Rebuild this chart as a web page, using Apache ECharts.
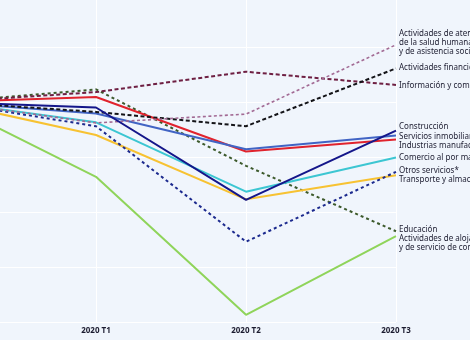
<!DOCTYPE html>
<html>
<head>
<meta charset="utf-8">
<script src="https://cdn.jsdelivr.net/npm/echarts@6/dist/echarts.min.js"></script>
<style>
  html, body { margin: 0; padding: 0; background: #f0f5fc; }
  #chart { width: 470px; height: 340px; }
</style>
</head>
<body>
<div id="chart"></div>
<script>
// Quarterly activity index by sector, 2019 T4 = 100
const quarters = ['2019 T4', '2020 T1', '2020 T2', '2020 T3'];

const salud         = [100, 96.2, 97.8, 110.4];
const financieras   = [100, 98.2, 95.6, 106.1];
const informacion   = [100, 101.8, 105.5, 103.1];
const construccion  = [100, 99.0, 82.2, 94.8];
const inmobiliarios = [100, 97.9, 91.4, 93.9];
const manufactura   = [100, 100.9, 91.0, 93.2];
const comercio      = [100, 96.3, 83.7, 89.9];
const otros         = [100, 95.6, 74.6, 87.3];
const transporte    = [100, 94.0, 82.3, 86.7];
const educacion     = [100, 102.3, 88.4, 76.5];
const alojamiento   = [100, 86.4, 61.3, 75.6];

const sectorNames = {
  salud: 'Actividades de atención\nde la salud humana\ny de asistencia social',
  financieras: 'Actividades financieras y de seguros',
  informacion: 'Información y comunicaciones',
  construccion: 'Construcción',
  inmobiliarios: 'Servicios inmobiliarios',
  manufactura: 'Industrias manufactureras',
  comercio: 'Comercio al por mayor y al por menor',
  otros: 'Otros servicios*',
  transporte: 'Transporte y almacenamiento',
  educacion: 'Educación',
  alojamiento: 'Actividades de alojamiento\ny de servicio de comidas'
};

const FONT = '"Noto Sans", "Open Sans", sans-serif';

function makeSeries(key, data, color, opts) {
  return {
    name: sectorNames[key],
    type: 'line',
    data: data,
    showSymbol: false,
    symbol: 'none',
    smooth: false,
    silent: true,
    z: opts.z || 2,
    lineStyle: {
      color: color,
      width: opts.width || 2,
      type: opts.dash || 'solid'
    },
    endLabel: {
      show: true,
      formatter: '{a}',
      distance: 3,
      offset: opts.offset || [0, 0],
      color: '#1c1c30',
      fontSize: 8,
      lineHeight: 9,
      fontFamily: FONT
    }
  };
}

const chart = echarts.init(document.getElementById('chart'), null, { renderer: 'canvas' });

chart.setOption({
  backgroundColor: '#f0f5fc',
  animation: false,
  // the first quarter sits just outside the left edge of the view
  grid: {
    left: -54, width: 450, top: -8, height: 330,
    containLabel: false,
    outerBoundsMode: 'none'
  },
  xAxis: {
    type: 'category',
    data: quarters,
    boundaryGap: false,
    axisLine: { show: false },
    axisTick: { show: false },
    axisLabel: {
      color: '#1c1c30',
      fontSize: 8,
      fontWeight: 'bold',
      fontFamily: FONT,
      margin: 5
    },
    splitLine: { show: true, lineStyle: { color: '#ffffff', width: 1 } }
  },
  yAxis: {
    type: 'value',
    min: 60,
    max: 120,
    interval: 10,
    axisLine: { show: false },
    axisTick: { show: false },
    axisLabel: { show: false },
    splitLine: { show: true, lineStyle: { color: '#ffffff', width: 1 } }
  },
  series: [
    makeSeries('alojamiento', alojamiento, '#8fd45a', { offset: [0, 7] }),
    makeSeries('educacion', educacion, '#3d5a2c', { dash: [3, 3], offset: [0, -2] }),
    makeSeries('transporte', transporte, '#f7c232', { offset: [0, 5] }),
    makeSeries('otros', otros, '#1c2a8e', { dash: [3, 3], offset: [0, -1.5] }),
    makeSeries('comercio', comercio, '#3cc6d2', { offset: [0, 0] }),
    makeSeries('manufactura', manufactura, '#e0232d', { offset: [0, 6] }),
    makeSeries('inmobiliarios', inmobiliarios, '#4164c4', { offset: [0, 1] }),
    makeSeries('construccion', construccion, '#14168a', { offset: [0, -3.5], z: 3 }),
    makeSeries('informacion', informacion, '#6e1f42', { dash: [4, 2.5], offset: [0, 0.5] }),
    makeSeries('financieras', financieras, '#141418', { dash: [4, 2.5], offset: [0, -0.5] }),
    makeSeries('salud', salud, '#a26a94', { dash: [3, 2.5], width: 1.6, offset: [0, -2] })
  ]
});
</script>
</body>
</html>
